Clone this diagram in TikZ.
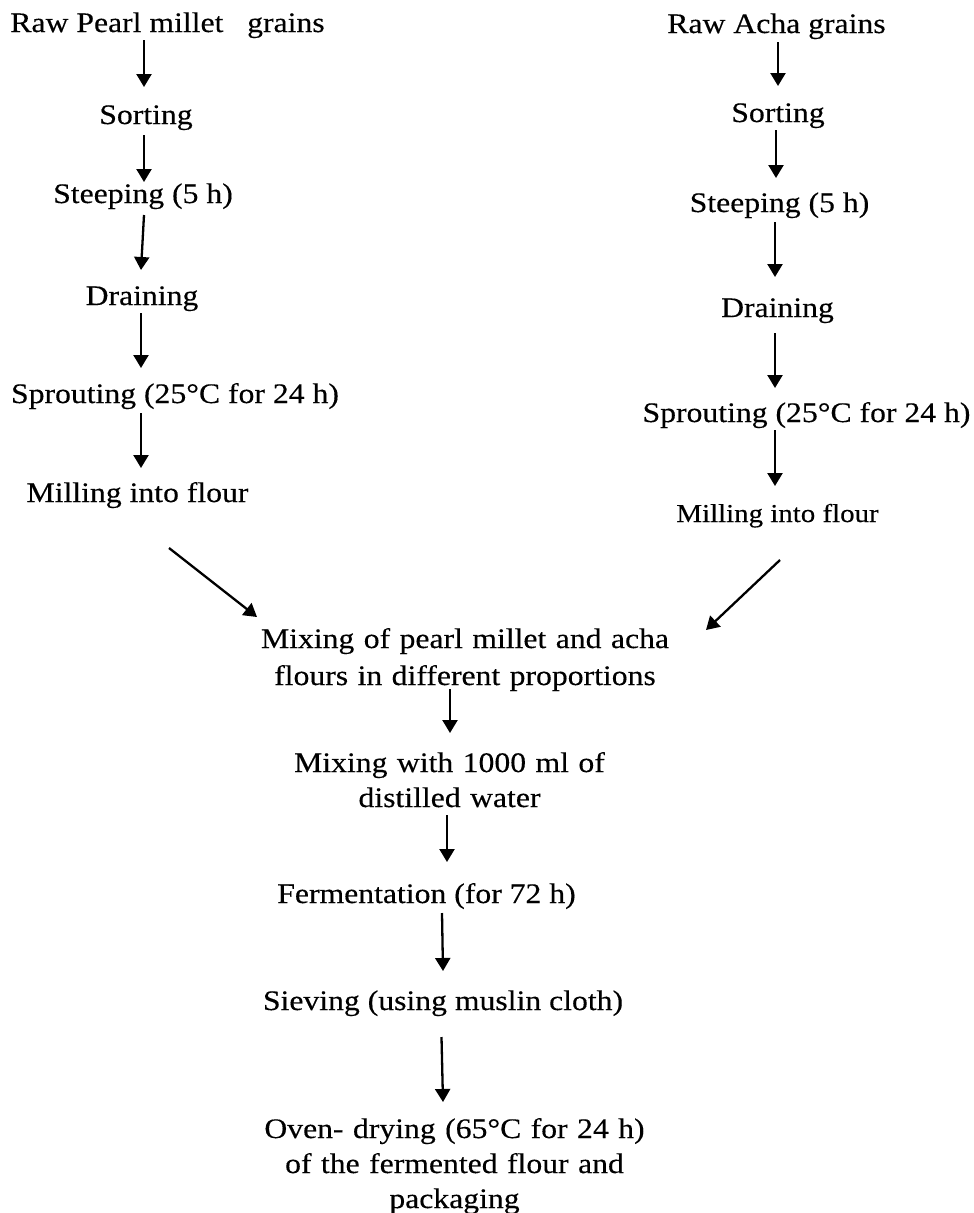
\documentclass[tikz,border=0pt]{standalone}
\usepackage{fontspec}
\setmainfont{Liberation Serif}[FakeStretch=1.12,FakeBold=0.3]
\usetikzlibrary{arrows.meta,calc}
\begin{document}
\begin{tikzpicture}[x=1pt,y=-1pt,
  txt/.style={inner sep=0pt, anchor=base, font=\fontsize{28.3}{36}\selectfont},
  txtsmall/.style={inner sep=0pt, anchor=base, font=\fontsize{25.8}{34}\selectfont},
  multi/.style={txt, align=center, text width=#1},
  arr/.style={line width=2.3pt, -{Triangle[length=13pt,width=15pt]}}]
\fill[white] (0,0) rectangle (974,1213);
\useasboundingbox (0,0) rectangle (974,1213);
% left column
\node[txt] (L1) at (167.5,32) {Raw Pearl millet~~~grains};
\node[txt] (L2) at (146,124) {Sorting};
\node[txt] (L3) at (143,203) {Steeping (5 h)};
\node[txt] (L4) at (142,305) {Draining};
\node[txt] (L5) at (175,403) {Sprouting (25°C for 24 h)};
\node[txt] (L6) at (137.5,502) {Milling into flour};
% right column
\node[txt] (R1) at (776.5,33) {Raw Acha grains};
\node[txt] (R2) at (778,122) {Sorting};
\node[txt] (R3) at (779.5,212) {Steeping (5 h)};
\node[txt] (R4) at (777.5,317) {Draining};
\node[txt] (R5) at (806.5,422) {Sprouting (25°C for 24 h)};
\node[txtsmall] (R6) at (777.5,522) {Milling into flour};
% centre
\node[multi=440, font=\fontsize{28.3}{37}\selectfont] (C1) at (465,648) {Mixing of pearl millet and acha\\flours in different proportions};
\node[multi=350, font=\fontsize{28.3}{35}\selectfont] (C2) at (449.5,772) {Mixing with 1000 ml of\\distilled water};
\node[txt] (C3) at (426.5,903) {Fermentation (for 72 h)};
\node[txt] (C4) at (443,1010) {Sieving (using muslin cloth)};
\node[multi=430, font=\fontsize{28.3}{35}\selectfont] (C5) at (454.5,1138) {Oven- drying (65°C for 24 h)\\of the fermented flour and\\packaging};
% arrows left
\draw[arr] ($(L1.base)+(-23.5,8)$) -- ($(L2.base)+(-2,-37)$);
\draw[arr] ($(L2.base)+(-2,11)$) -- ($(L3.base)+(1,-21)$);
\draw[arr] ($(L3.base)+(1,12)$) -- ($(L4.base)+(-1,-35)$);
\draw[arr] ($(L4.base)+(-1,8)$) -- ($(L5.base)+(-34,-35)$);
\draw[arr] ($(L5.base)+(-34,10)$) -- ($(L6.base)+(3.5,-34)$);
\draw[arr] ($(L6.base)+(31.5,46)$) -- ($(C1.base)+(-208,-31)$);
% arrows right
\draw[arr] ($(R1.base)+(1.5,9)$) -- ($(R2.base)+(0,-36)$);
\draw[arr] ($(R2.base)+(-2,8)$) -- ($(R3.base)+(-3.5,-34)$);
\draw[arr] ($(R3.base)+(-4.5,10)$) -- ($(R4.base)+(-2.5,-40)$);
\draw[arr] ($(R4.base)+(-2.5,16)$) -- ($(R5.base)+(-31.5,-34)$);
\draw[arr] ($(R5.base)+(-31.5,8)$) -- ($(R6.base)+(-2.5,-36)$);
\draw[arr] ($(R6.base)+(2.5,38)$) -- ($(C1.base)+(241,-18)$);
% arrows centre
\draw[arr] ($(C1.base)+(-15,41)$) -- ($(C2.base)+(0.5,-39)$);
\draw[arr] ($(C2.base)+(-2.5,43)$) -- ($(C3.base)+(20.5,-41)$);
\draw[arr] ($(C3.base)+(15.5,10)$) -- ($(C4.base)+(0,-39)$);
\draw[arr] ($(C4.base)+(-1.5,27)$) -- ($(C5.base)+(-11.5,-36)$);
\end{tikzpicture}
\end{document}
